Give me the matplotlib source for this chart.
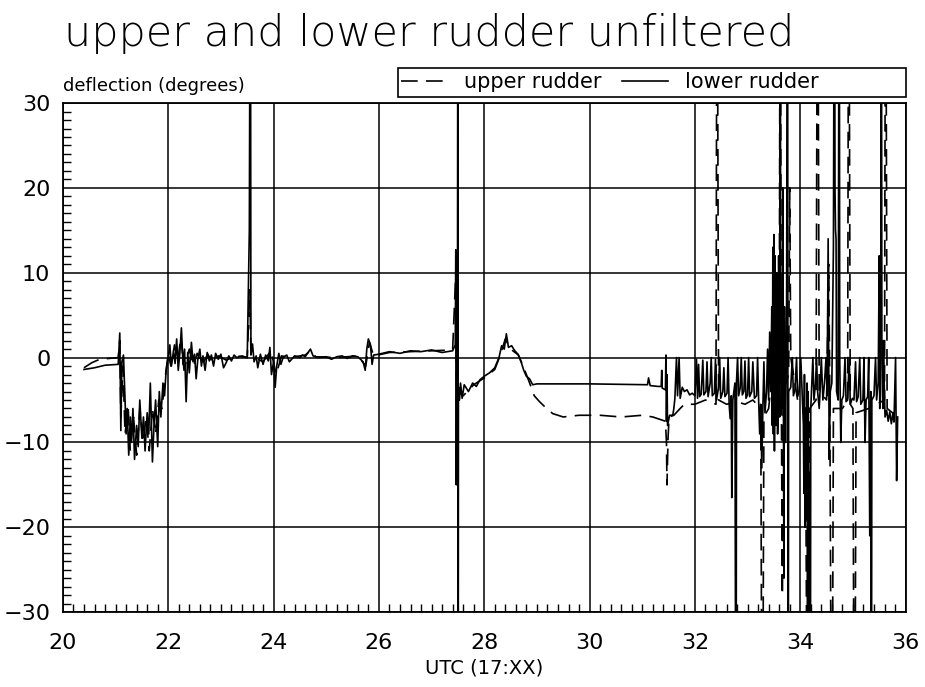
import numpy as np
import matplotlib
matplotlib.use("Agg")
import matplotlib.pyplot as plt
from matplotlib.patches import Rectangle
from matplotlib.ticker import MultipleLocator

# (time in minutes past 17:00, deflection in degrees)
lower_pts = [
    (20.40, -1.4), (20.60, -1.2), (20.80, -0.9), (21.05, -0.8), (21.08, 2.9), (21.10, -8.6),
    (21.12, -0.5), (21.15, 0.3), (21.18, -5.0), (21.20, -9.0), (21.22, -6.0), (21.25, -11.5),
    (21.28, -7.0), (21.30, -10.0), (21.33, -6.0), (21.36, -12.0), (21.40, -8.0), (21.43, -10.5),
    (21.46, -5.0), (21.50, -9.5), (21.53, -7.0), (21.56, -11.0), (21.60, -6.5), (21.63, -9.0),
    (21.66, -3.0), (21.70, -12.3), (21.73, -8.0), (21.76, -5.0), (21.80, -10.5), (21.83, -4.0),
    (21.86, -7.0), (21.90, -3.0), (21.93, -4.5), (21.96, -1.5), (22.00, 0.0), (22.03, 1.5),
    (22.06, -1.0), (22.10, 0.8), (22.13, -0.7), (22.16, 2.2), (22.19, -1.5), (22.22, 0.5),
    (22.25, 3.5), (22.28, -0.8), (22.31, 1.0), (22.34, -5.2), (22.37, 0.6), (22.40, -1.8),
    (22.44, 1.8), (22.47, -0.5), (22.50, 0.4), (22.53, -2.5), (22.56, -0.3), (22.60, 1.0),
    (22.63, -1.0), (22.66, 0.2), (22.70, -1.5), (22.74, 0.6), (22.78, -0.4), (22.82, 0.3),
    (22.86, -1.0), (22.90, 0.5), (22.95, -0.2), (23.00, 0.4), (23.05, -1.2), (23.10, -0.6),
    (23.15, 0.2), (23.20, -0.4), (23.25, 0.3), (23.30, 0.0), (23.40, 0.2), (23.50, 0.0),
    (23.54, 15.0), (23.56, 60.0), (23.57, 0.3), (23.60, 1.6), (23.63, -0.5), (23.67, 0.2),
    (23.70, -1.2), (23.75, 0.4), (23.80, -0.8), (23.85, 0.3), (23.90, -0.4), (23.93, 1.2),
    (23.96, -2.0), (24.00, -0.5), (24.03, -3.5), (24.06, -1.0), (24.10, 0.5), (24.14, -0.8),
    (24.18, 0.0), (24.25, 0.3), (24.30, -0.5), (24.40, 0.2), (24.50, 0.0), (24.55, 0.3),
    (24.60, 0.1), (24.70, 1.0), (24.75, 0.2), (24.85, 0.0), (25.00, 0.1), (25.10, -0.2),
    (25.20, 0.1), (25.30, 0.2), (25.40, -0.1), (25.50, 0.2), (25.60, 0.1), (25.70, -0.5),
    (25.74, -1.5), (25.77, 1.0), (25.80, 2.2), (25.84, 1.5), (25.87, -0.8), (25.90, 0.3),
    (26.00, 0.4), (26.20, 0.7), (26.40, 0.5), (26.60, 0.8), (26.80, 0.7), (27.00, 0.9),
    (27.20, 0.6), (27.40, 0.8), (27.45, 1.5), (27.46, 12.7), (27.47, -15.0), (27.48, 5.0),
    (27.49, -10.0), (27.50, 60.0), (27.505, -60.0), (27.51, -3.5), (27.53, -5.0), (27.55, -3.0),
    (27.58, -4.8), (27.62, -3.2), (27.70, -4.0), (27.78, -3.0), (27.85, -3.4), (27.92, -2.6),
    (28.00, -2.2), (28.10, -1.8), (28.20, -1.2), (28.28, 0.0), (28.33, 1.4), (28.38, 1.0),
    (28.42, 2.8), (28.46, 1.2), (28.52, 1.4), (28.58, 0.8), (28.64, 0.4), (28.70, -0.5),
    (28.75, -1.5), (28.80, -2.2), (28.86, -2.5), (28.92, -3.2), (29.00, -3.1), (30.00, -3.1),
    (31.00, -3.2), (31.10, -3.2), (31.12, -2.4), (31.15, -3.3), (31.30, -3.4), (31.36, -3.4),
    (31.37, -1.5), (31.38, -3.6), (31.44, -3.8), (31.45, 0.3), (31.46, -7.5), (31.47, -2.0),
    (31.48, -8.0), (31.52, -6.8), (31.58, -6.8), (31.60, -6.0), (31.62, -4.8), (31.65, 0.0),
    (31.67, -4.5), (31.70, 0.0), (31.72, -4.8), (31.76, -3.5), (31.80, -4.0), (31.85, -3.8),
    (31.90, -4.4), (31.95, -4.2), (32.00, -4.5), (32.03, -0.2), (32.05, -4.8), (32.07, -0.8),
    (32.09, -4.6), (32.12, -4.3), (32.15, -0.3), (32.17, -4.4), (32.21, -4.0), (32.23, -0.5),
    (32.25, -4.6), (32.29, -3.0), (32.31, 0.0), (32.33, -4.5), (32.37, -4.2), (32.39, -0.2),
    (32.41, -5.0), (32.45, -3.5), (32.47, 0.0), (32.49, -4.8), (32.53, -4.0), (32.55, -1.2),
    (32.57, -4.6), (32.61, -4.2), (32.63, 0.0), (32.65, -5.5), (32.67, -7.2), (32.69, -4.5),
    (32.70, -16.5), (32.72, -5.0), (32.76, -3.0), (32.78, -60.0), (32.79, -2.8), (32.81, 0.0),
    (32.83, -4.5), (32.86, -3.6), (32.88, 0.0), (32.90, -4.4), (32.93, -4.0), (32.95, -0.4),
    (32.97, -4.8), (33.00, -4.4), (33.02, 0.0), (33.04, -4.6), (33.08, -4.0), (33.10, -0.5),
    (33.13, -4.8), (33.17, -4.5), (33.19, 0.0), (33.21, -5.0), (33.23, -9.0), (33.25, -5.5),
    (33.27, -13.0), (33.29, -6.0), (33.31, -0.5), (33.33, -6.5), (33.36, -4.0), (33.38, 1.0),
    (33.40, -5.0), (33.42, 3.0), (33.44, -4.0), (33.46, 6.0), (33.47, -8.0), (33.48, 13.0),
    (33.49, -9.0), (33.50, 14.5), (33.51, -11.0), (33.52, 12.0), (33.53, 4.0), (33.54, -8.0),
    (33.55, 10.0), (33.56, 9.0), (33.57, -9.0), (33.58, -6.0), (33.59, 12.0), (33.60, 5.0),
    (33.61, -7.0), (33.62, 60.0), (33.63, -3.0), (33.64, 8.0), (33.65, 2.0), (33.66, -6.0),
    (33.67, 20.0), (33.69, -26.0), (33.70, 6.0), (33.71, -3.0), (33.72, -10.0), (33.74, 3.0),
    (33.76, 60.0), (33.77, -60.0), (33.78, -4.0), (33.82, -3.5), (33.85, 0.0), (33.87, -4.5),
    (33.90, -3.8), (33.93, 0.0), (33.95, -4.6), (33.98, -4.0), (34.01, 0.0), (34.04, -5.0),
    (34.06, -8.0), (34.07, -16.0), (34.08, -2.0), (34.09, -20.0), (34.10, -14.0), (34.11, -6.0),
    (34.12, -19.0), (34.13, -3.0), (34.14, -60.0), (34.15, -4.0), (34.16, -12.0), (34.17, -18.0),
    (34.19, -60.0), (34.20, -6.0), (34.22, -3.0), (34.24, 0.0), (34.26, -5.0), (34.29, -3.0),
    (34.31, 0.0), (34.33, -4.0), (34.36, -6.0), (34.38, -3.5), (34.40, 0.0), (34.43, -5.0),
    (34.46, -3.0), (34.49, 0.0), (34.51, -4.5), (34.53, 14.0), (34.55, -12.0), (34.57, -4.0),
    (34.60, -3.0), (34.63, 13.0), (34.65, 60.0), (34.66, 20.0), (34.67, 15.0), (34.68, 14.0),
    (34.69, -4.0), (34.72, -5.0), (34.74, 60.0), (34.75, 0.0), (34.77, -10.0), (34.79, -5.0),
    (34.82, -4.5), (34.85, 0.0), (34.87, -5.2), (34.90, -5.0), (34.93, 0.0), (34.95, -5.5),
    (34.99, -4.8), (35.02, -5.0), (35.05, -0.5), (35.07, -5.2), (35.10, -4.6), (35.13, 0.0),
    (35.15, -5.5), (35.19, -5.0), (35.21, 0.0), (35.23, -10.0), (35.25, -5.0), (35.28, -4.6),
    (35.30, 0.0), (35.32, -21.0), (35.34, -4.0), (35.35, -60.0), (35.36, -5.0), (35.40, -4.5),
    (35.43, 0.0), (35.45, -5.0), (35.48, -3.0), (35.50, 12.0), (35.51, -6.0), (35.52, 8.0),
    (35.53, 10.0), (35.54, 60.0), (35.55, 0.0), (35.56, -4.0), (35.57, -6.0), (35.58, 2.0),
    (35.59, -2.0), (35.61, -7.0), (35.64, -6.2), (35.67, -7.5), (35.70, -6.4), (35.73, -7.8),
    (35.76, -6.5), (35.78, -7.6), (35.81, 0.0), (35.83, -14.5), (35.85, -7.0),
]

upper_pts = [
    (20.40, -1.2), (20.55, -0.6), (20.70, -0.2), (21.05, 0.0), (21.08, 2.0), (21.10, -7.0),
    (21.14, -1.0), (21.18, -9.0), (21.24, -6.0), (21.28, -11.0), (21.34, -7.0), (21.40, -11.5),
    (21.46, -6.0), (21.52, -10.0), (21.58, -7.0), (21.64, -11.0), (21.70, -6.0), (21.76, -9.0),
    (21.82, -5.0), (21.88, -6.0), (21.95, -2.0), (22.00, 0.5), (22.05, -1.0), (22.12, 1.5),
    (22.18, -0.5), (22.24, 2.5), (22.30, -1.5), (22.40, 1.0), (22.48, -1.0), (22.55, 0.5),
    (22.65, -0.8), (22.75, 0.4), (22.85, -0.6), (22.95, 0.2), (23.10, -0.3), (23.30, 0.2),
    (23.50, 0.0), (23.55, 8.0), (23.57, 0.5), (23.65, 0.0), (23.80, -0.5), (23.95, 0.8),
    (24.05, -2.0), (24.15, 0.2), (24.30, 0.0), (24.60, 0.3), (24.70, 0.8), (24.80, 0.1),
    (25.20, 0.0), (25.60, 0.2), (25.75, -1.0), (25.82, 1.8), (25.90, 0.2), (26.20, 0.6),
    (26.60, 0.7), (27.00, 0.8), (27.40, 0.9), (27.46, 10.0), (27.48, -12.0), (27.50, -4.0),
    (27.60, -4.5), (27.80, -3.2), (28.00, -2.4), (28.20, -1.4), (28.30, 0.2), (28.40, 2.2),
    (28.50, 1.0), (28.65, 0.3), (28.75, -1.2), (28.85, -2.8), (28.95, -4.5), (29.05, -5.2),
    (29.15, -5.8), (29.30, -6.6), (29.50, -7.0), (29.80, -6.8), (30.20, -6.8), (30.60, -7.0),
    (31.00, -6.8), (31.20, -7.0), (31.44, -7.5), (31.46, -10.0), (31.47, -15.0), (31.49, -9.5),
    (31.51, -7.0), (31.60, -6.8), (31.72, -6.0), (31.80, -5.5), (32.00, -5.5), (32.20, -5.0),
    (32.40, -5.5), (32.42, 60.0), (32.45, -5.0), (32.60, -5.5), (32.80, -5.2), (32.95, -5.5),
    (33.10, -5.0), (33.25, -6.0), (33.28, -60.0), (33.31, -7.0), (33.40, -6.0), (33.50, 0.0),
    (33.60, -5.0), (33.62, 60.0), (33.64, -3.0), (33.66, -28.0), (33.68, -4.0), (33.78, -2.0),
    (33.80, 20.0), (33.82, 0.0), (33.95, -5.0), (34.10, -6.0), (34.14, -60.0), (34.18, -6.0),
    (34.30, -5.0), (34.33, 60.0), (34.36, -4.0), (34.50, -5.0), (34.54, 11.0), (34.56, -3.0),
    (34.60, -60.0), (34.63, -6.0), (34.80, -6.0), (34.90, -5.0), (34.92, 60.0), (34.95, -5.5),
    (35.00, -6.0), (35.03, -60.0), (35.06, -6.5), (35.30, -6.0), (35.60, -5.0), (35.62, 60.0),
    (35.65, -6.0), (35.85, -7.0),
]

fig = plt.figure(figsize=(9.25, 6.87), dpi=100)
ax = fig.add_axes([0.068, 0.109, 0.911, 0.741])

ut, uv = np.array(upper_pts).T
lt, lv = np.array(lower_pts).T
ax.plot(ut, uv, color="black", lw=1.2, dashes=(10, 5), label="upper rudder")
ax.plot(lt, lv, color="black", lw=1.2, label="lower rudder")

ax.set_xlim(20, 36)
ax.set_ylim(-30, 30)
ax.xaxis.set_major_locator(MultipleLocator(2))
ax.xaxis.set_minor_locator(MultipleLocator(0.2))
ax.yaxis.set_major_locator(MultipleLocator(10))
ax.yaxis.set_minor_locator(MultipleLocator(1))
ax.grid(which="major", color="black", lw=1.1)
ax.tick_params(which="minor", direction="in", length=6, width=1)
ax.tick_params(which="major", direction="in", length=0, labelsize=16)
ax.tick_params(axis="x", which="major", pad=15)
ax.tick_params(axis="y", which="major", pad=9)
for s in ax.spines.values():
    s.set_linewidth(1.3)

ax.set_xlabel("UTC (17:XX)", fontsize=14, labelpad=4)

fig.text(0.069, 0.933, "upper and lower rudder unfiltered", fontsize=31,
         family="DejaVu Sans", fontweight=200, va="baseline")
fig.text(0.068, 0.868, "deflection (degrees)", fontsize=13, va="baseline")

# legend box above the plot, right-aligned with the axes
fig.add_artist(Rectangle((0.430, 0.8588), 0.549, 0.0422, transform=fig.transFigure,
                         facecolor="white", edgecolor="black", lw=1.2))
leg = fig.legend(loc="center left", ncol=2, bbox_to_anchor=(0.434, 0.880),
                 frameon=False, prop={"size": 15}, handlelength=2.2,
                 handletextpad=0.8, columnspacing=1.0,
                 borderaxespad=0, borderpad=0)

fig.savefig("out.png", dpi=100)
